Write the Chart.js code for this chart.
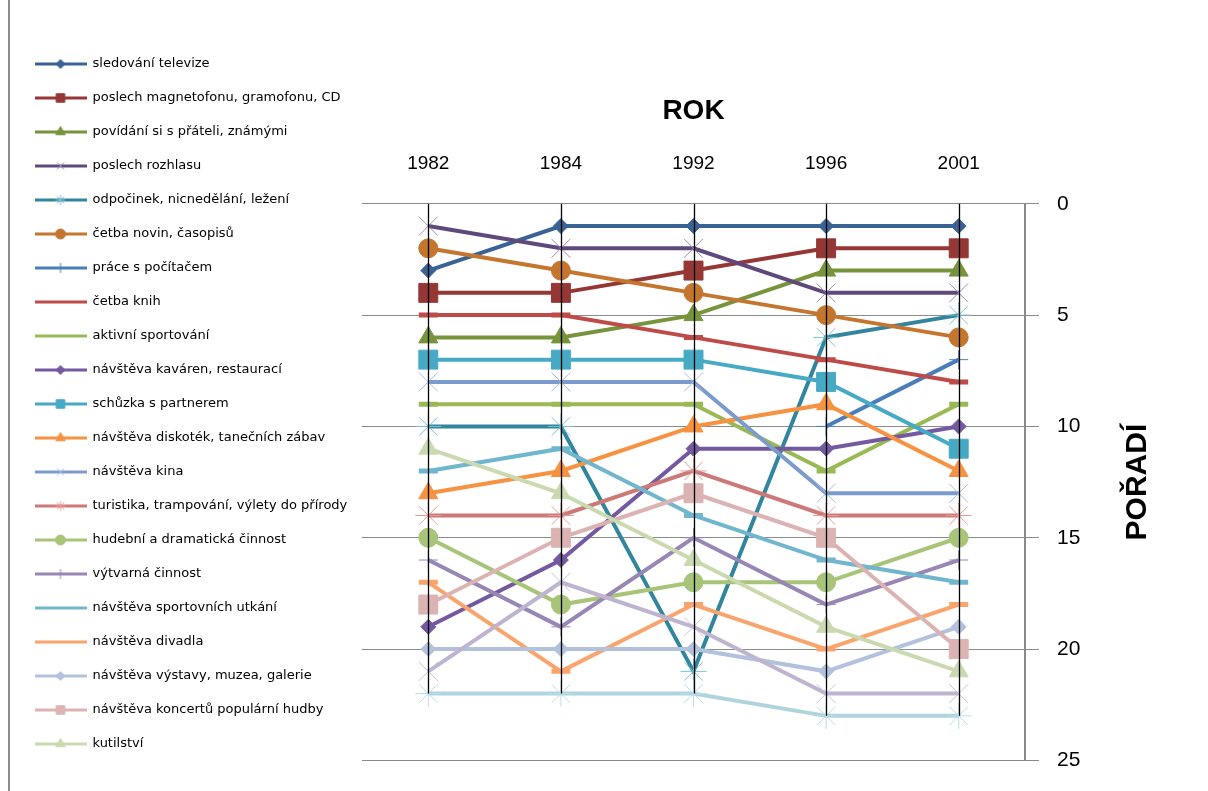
<!DOCTYPE html>
<html lang="cs">
<head>
<meta charset="utf-8">
<title>Volnočasové aktivity – pořadí</title>
<script src="https://cdn.jsdelivr.net/npm/chart.js@4.4.1/dist/chart.umd.min.js"></script>
<style>
  html, body { margin: 0; padding: 0; background: #fff; }
  #wrap { position: relative; width: 1208px; height: 791px; overflow: hidden; }
  #frame { position: absolute; left: 8px; top: 0; width: 2px; height: 791px; background: #8c8c8c; }
  canvas { display: block; }
</style>
</head>
<body>
<div id="wrap">
  <canvas id="chart" width="1208" height="791"></canvas>
  <div id="frame"></div>
</div>
<script>
// roky (kategorie osy X)
const years = ["1982", "1984", "1992", "1996", "2001"];

// pořadí činností v jednotlivých letech
const televize   = [3, 1, 1, 1, 1];
const magnetofon = [4, 4, 3, 2, 2];
const pratele    = [6, 6, 5, 3, 3];
const rozhlas    = [1, 2, 2, 4, 4];
const odpocinek  = [10, 10, 21, 6, 5];
const noviny     = [2, 3, 4, 5, 6];
const pocitac    = [null, null, null, 10, 7];
const knihy      = [5, 5, 6, 7, 8];
const sport      = [9, 9, 9, 12, 9];
const kavarny    = [19, 16, 11, 11, 10];
const partner    = [7, 7, 7, 8, 11];
const diskoteky  = [13, 12, 10, 9, 12];
const kino       = [8, 8, 8, 13, 13];
const turistika  = [14, 14, 12, 14, 14];
const hudebni    = [15, 18, 17, 17, 15];
const vytvarna   = [16, 19, 15, 18, 16];
const utkani     = [12, 11, 14, 16, 17];
const divadlo    = [17, 21, 18, 20, 18];
const vystavy    = [20, 20, 20, 21, 19];
const koncerty   = [18, 15, 13, 15, 20];
const kutilstvi  = [11, 13, 16, 19, 21];
const rada22     = [21, 17, 19, 22, 22];
const rada23     = [22, 22, 22, 23, 23];

const seriesNames = [
  "sledování televize",
  "poslech magnetofonu, gramofonu, CD",
  "povídání si s přáteli, známými",
  "poslech rozhlasu",
  "odpočinek, nicnedělání, ležení",
  "četba novin, časopisů",
  "práce s počítačem",
  "četba knih",
  "aktivní sportování",
  "návštěva kaváren, restaurací",
  "schůzka s partnerem",
  "návštěva diskoték, tanečních zábav",
  "návštěva kina",
  "turistika, trampování, výlety do přírody",
  "hudební a dramatická činnost",
  "výtvarná činnost",
  "návštěva sportovních utkání",
  "návštěva divadla",
  "návštěva výstavy, muzea, galerie",
  "návštěva koncertů populární hudby",
  "kutilství",
  "Řada 22",
  "Řada 23"
];

const seriesValues = [
  televize, magnetofon, pratele, rozhlas, odpocinek, noviny, pocitac, knihy,
  sport, kavarny, partner, diskoteky, kino, turistika, hudebni, vytvarna,
  utkani, divadlo, vystavy, koncerty, kutilstvi, rada22, rada23
];

// only the first 21 series fit in the original legend
const legendCount = 21;

// styles (Excel-like palette, marker cycle of 9)
const lineColors = [
  "#3a6395", "#953735", "#77933c", "#5f497a", "#31859c", "#c4762f", "#4a7ebb", "#be4b48", "#98b954",
  "#7559a0", "#46aac5", "#f69240", "#7a9bcb", "#cc7977", "#a8c479", "#9886b4", "#70b7cd", "#f9a46c",
  "#b2c1dc", "#dbb3b2", "#cad9b0", "#bfb4d0", "#b0d4de"
];
const markerColors = [
  "#3a6395", "#953735", "#77933c", "#9d8bbb", "#7cc0d4", "#c4762f", "#4a7ebb", "#be4b48", "#98b954",
  "#7559a0", "#46aac5", "#f69240", "#a5bde2", "#e69a98", "#a8c479", "#9886b4", "#70b7cd", "#f9a46c",
  "#b2c1dc", "#dbb3b2", "#cad9b0", "#c9c0da", "#b8dde8"
];
const markerCycle = [
  { style: "rectRot", r: 7.5, bw: 1 },
  { style: "rect", r: 13.4, bw: 1 },
  { style: "triangle", r: 11, bw: 1 },
  { style: "crossRot", r: 13.4, bw: 1 },
  { style: "star", r: 13, bw: 1 },
  { style: "circle", r: 9.5, bw: 1 },
  { style: "cross", r: 9.5, bw: 1 },
  { style: "line", r: 9.5, bw: 5 },
  { style: "line", r: 9.5, bw: 5 }
];
const legendMarker = {
  rectRot: 4.5, rect: 6, triangle: 5.5, crossRot: 5, star: 5, circle: 5, cross: 5, line: 0
};

function makeIcon(i) {
  const c = document.createElement("canvas");
  c.width = 52;
  c.height = 20;
  const g = c.getContext("2d");
  g.strokeStyle = lineColors[i];
  g.lineWidth = 3;
  g.beginPath();
  g.moveTo(0, 10);
  g.lineTo(52, 10);
  g.stroke();
  const m = markerCycle[i % 9];
  const r = legendMarker[m.style];
  if (r && Chart.helpers && Chart.helpers.drawPoint) {
    g.fillStyle = markerColors[i];
    g.strokeStyle = markerColors[i];
    g.lineWidth = 1;
    Chart.helpers.drawPoint(g, { pointStyle: m.style, radius: r, borderWidth: 1, rotation: 0 }, 26, 10);
  }
  return c;
}

const legendIcons = seriesNames.map((_, i) => makeIcon(i));

// legend geometry: work out how wide the legend box will be so the plot starts where it should
const legendFont = { family: "DejaVu Sans", size: 13 };
const legendPad = 21;
const iconWidth = 51;
const mctx = document.createElement("canvas").getContext("2d");
mctx.font = legendFont.size + "px " + legendFont.family;
const longestLabel = Math.max(...seriesNames.slice(0, legendCount).map(t => mctx.measureText(t).width));
const legendWidth = legendPad + iconWidth + legendFont.size / 2 + longestLabel + 10;
const padLeft = 14;
const plotLeft = 362;

const datasets = seriesValues.map((vals, i) => {
  const m = markerCycle[i % 9];
  return {
    label: seriesNames[i],
    data: vals,
    xAxisID: "x",
    yAxisID: "y",
    order: -i,
    borderColor: lineColors[i],
    backgroundColor: markerColors[i],
    borderWidth: 4,
    tension: 0,
    spanGaps: false,
    pointStyle: m.style,
    pointRadius: m.r,
    pointHoverRadius: m.r,
    pointBorderWidth: m.bw,
    pointBorderColor: m.style === "line" ? lineColors[i] : markerColors[i],
    pointBackgroundColor: markerColors[i]
  };
});

// black drop lines from the category axis down to the lowest point in each year
const dropLines = {
  id: "dropLines",
  afterDatasetsDraw(chart) {
    const { ctx } = chart;
    const xs = chart.scales.x, ys = chart.scales.y;
    ctx.save();
    ctx.strokeStyle = "#000";
    ctx.lineWidth = 1.3;
    years.forEach((y, i) => {
      const vals = seriesValues.map(s => s[i]).filter(v => v !== null);
      const x = Math.round(xs.getPixelForValue(i)) + 0.5;
      ctx.beginPath();
      ctx.moveTo(x, ys.getPixelForValue(0));
      ctx.lineTo(x, ys.getPixelForValue(Math.max(...vals)));
      ctx.stroke();
    });
    ctx.restore();
  }
};

// y axis title reads bottom-to-top on the right side
const yTitle = {
  id: "yTitle",
  afterDraw(chart) {
    const { ctx } = chart;
    const s = chart.scales.y;
    ctx.save();
    ctx.translate(s.left + 113, (s.top + s.bottom) / 2);
    ctx.rotate(-Math.PI / 2);
    ctx.font = 'bold 30px "Liberation Sans"';
    ctx.fillStyle = "#000";
    ctx.textAlign = "center";
    ctx.textBaseline = "middle";
    ctx.fillText("POŘADÍ", 0, 0);
    ctx.restore();
  }
};

new Chart(document.getElementById("chart"), {
  type: "line",
  data: { labels: years, datasets: datasets },
  options: {
    responsive: false,
    animation: false,
    devicePixelRatio: 1,
    layout: { padding: { top: 17, left: padLeft, right: 0, bottom: 0 } },
    plugins: {
      tooltip: { enabled: false },
      title: {
        display: true,
        text: "ROK",
        fullSize: false,
        color: "#000",
        font: { family: "Liberation Sans", size: 28, weight: "bold" },
        padding: { top: 77, bottom: 9 }
      },
      legend: {
        position: "left",
        align: "center",
        maxWidth: legendWidth + 20,
        labels: {
          usePointStyle: true,
          pointStyleWidth: iconWidth,
          boxHeight: 12,
          padding: legendPad,
          color: "#000",
          font: legendFont,
          generateLabels(chart) {
            return chart.data.datasets.slice(0, legendCount).map((ds, i) => ({
              text: ds.label,
              datasetIndex: i,
              pointStyle: legendIcons[i],
              fillStyle: ds.borderColor,
              strokeStyle: ds.borderColor,
              lineWidth: 0,
              hidden: false,
              fontColor: "#000"
            }));
          }
        }
      }
    },
    scales: {
      x: {
        type: "category",
        position: "top",
        offset: true,
        grid: { display: false },
        border: { display: false },
        ticks: {
          color: "#000",
          padding: 21,
          font: { family: "Liberation Sans", size: 19 }
        },
        afterFit(scale) { scale.height = 67.2; }
      },
      xB: {
        type: "category",
        position: "bottom",
        display: true,
        grid: { display: false },
        border: { display: false },
        ticks: { display: false },
        afterFit(scale) { scale.height = 21; }
      },
      y: {
        type: "linear",
        position: "right",
        reverse: true,
        min: 0,
        max: 25,
        ticks: {
          stepSize: 5,
          color: "#000",
          padding: 18,
          font: { family: "Liberation Sans", size: 21 }
        },
        grid: { color: "#8a8a8a", lineWidth: 1, tickLength: 14 },
        border: { display: true, color: "#8a8a8a", width: 2 },
        afterFit(scale) { scale.width = 183; }
      },
      yL: {
        type: "linear",
        position: "left",
        display: true,
        grid: { display: false },
        border: { display: false },
        ticks: { display: false },
        afterFit(scale) { scale.width = Math.max(0, plotLeft - padLeft - legendWidth); }
      }
    }
  },
  plugins: [dropLines, yTitle]
});
</script>
</body>
</html>
